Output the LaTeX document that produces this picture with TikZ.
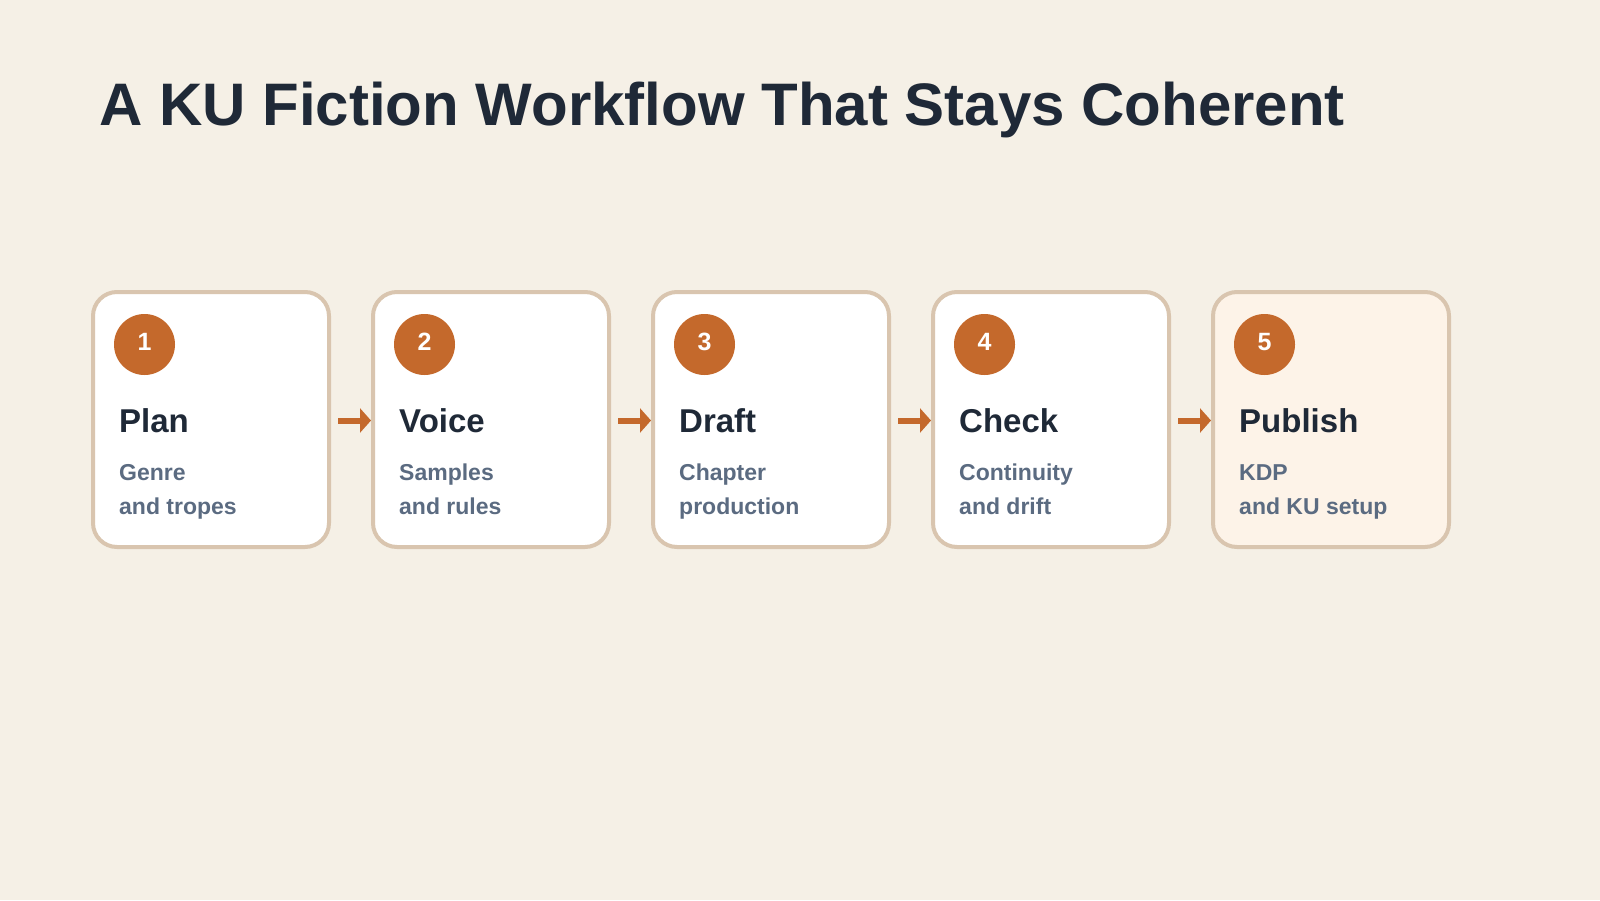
\documentclass[tikz,border=0pt]{standalone}
\usepackage{fontspec}
\setmainfont{Liberation Sans}
\usetikzlibrary{arrows.meta}
\definecolor{bgcol}{HTML}{F5F0E6}
\definecolor{cardborder}{HTML}{D9C5AF}
\definecolor{accent}{HTML}{C4692C}
\definecolor{titlecol}{HTML}{1F2937}
\definecolor{subcol}{HTML}{5B6B81}
\definecolor{lastfill}{HTML}{FDF3E8}
\tikzset{
  card/.style={draw=cardborder, line width=4pt, fill=white, rounded corners=24pt,
    minimum width=236pt, minimum height=255pt, inner sep=0pt},
  numcircle/.style={circle, fill=accent, minimum size=61pt, inner sep=0pt,
    text=white, text depth=6pt, font=\bfseries\fontsize{25}{30}\selectfont},
  steptitle/.style={anchor=base west, inner sep=0pt, text=titlecol,
    font=\bfseries\fontsize{33}{40}\selectfont},
  stepsub/.style={anchor=base west, inner sep=0pt, text=subcol,
    font=\bfseries\fontsize{23}{33.5}\selectfont},
  flow/.style={draw=accent, line width=6pt, shorten <=7pt,
    -{Triangle[length=11pt,width=24pt]}}
}
\begin{document}
\begin{tikzpicture}[x=1pt,y=-1pt]
\useasboundingbox (0,0) rectangle (1600,900);
\fill[bgcol] (0,0) rectangle (1600,900);
\node[anchor=base west, inner sep=0pt, text=titlecol, font=\bfseries\fontsize{60}{72}\selectfont] (title) at (99,125) {A KU Fiction Workflow That Stays Coherent};
% cards
\node[card] (c1) at (211,419.5) {};
\node[card] (c2) at (491,419.5) {};
\node[card] (c3) at (771,419.5) {};
\node[card] (c4) at (1051,419.5) {};
\node[card, fill=lastfill] (c5) at (1331,419.5) {};
% numbers
\node[numcircle] (n1) at (144.5,344.5) {1};
\node[numcircle] (n2) at (424.5,344.5) {2};
\node[numcircle] (n3) at (704.5,344.5) {3};
\node[numcircle] (n4) at (984.5,344.5) {4};
\node[numcircle] (n5) at (1264.5,344.5) {5};
% titles
\node[steptitle] (t1) at (119,432) {Plan};
\node[steptitle] (t2) at (399,432) {Voice};
\node[steptitle] (t3) at (679,432) {Draft};
\node[steptitle] (t4) at (959,432) {Check};
\node[steptitle] (t5) at (1239,432) {Publish};
% subtitles
\node[stepsub] (s1a) at (119,480) {Genre};
\node[stepsub] (s1b) at (119,514) {and tropes};
\node[stepsub] (s2a) at (399,480) {Samples};
\node[stepsub] (s2b) at (399,514) {and rules};
\node[stepsub] (s3a) at (679,480) {Chapter};
\node[stepsub] (s3b) at (679,514) {production};
\node[stepsub] (s4a) at (959,480) {Continuity};
\node[stepsub] (s4b) at (959,514) {and drift};
\node[stepsub] (s5a) at (1239,480) {KDP};
\node[stepsub] (s5b) at (1239,514) {and KU setup};
% arrows
\draw[flow] ([yshift=-1pt]c1.east) -- ([yshift=-1pt]c2.west);
\draw[flow] ([yshift=-1pt]c2.east) -- ([yshift=-1pt]c3.west);
\draw[flow] ([yshift=-1pt]c3.east) -- ([yshift=-1pt]c4.west);
\draw[flow] ([yshift=-1pt]c4.east) -- ([yshift=-1pt]c5.west);
\end{tikzpicture}
\end{document}
